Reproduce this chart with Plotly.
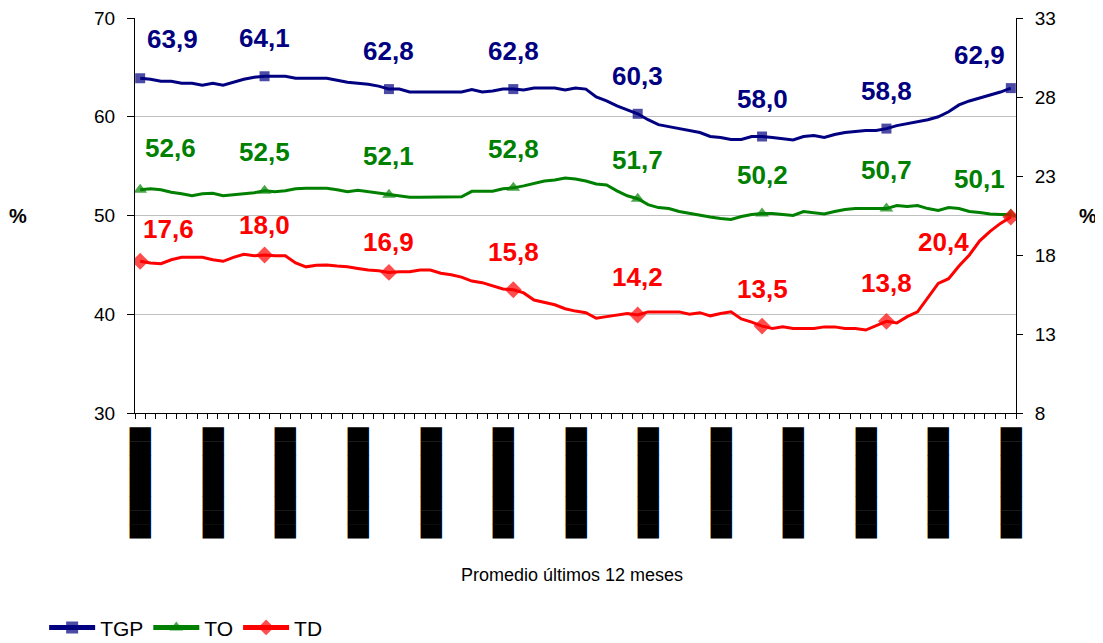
import plotly.graph_objects as go

# Promedio últimos 12 meses, 85 meses (marcador cada 12)
tgp = [63.9, 63.8, 63.6, 63.6, 63.4, 63.4, 63.2, 63.4, 63.2, 63.5, 63.8, 64.0,
       64.1, 64.1, 64.1, 63.9, 63.9, 63.9, 63.9, 63.7, 63.5, 63.4, 63.3, 63.1,
       62.8, 62.8, 62.5, 62.5, 62.5, 62.5, 62.5, 62.5, 62.75, 62.5, 62.6, 62.8,
       62.8, 62.7, 62.9, 62.9, 62.9, 62.7, 62.9, 62.8, 62.0, 61.6, 61.1, 60.7,
       60.3, 59.7, 59.2, 59.0, 58.8, 58.6, 58.4, 58.0, 57.9, 57.7, 57.7, 58.0,
       58.0, 57.9, 57.8, 57.65, 58.0, 58.1, 57.9, 58.2, 58.4, 58.5, 58.6, 58.6,
       58.8, 59.1, 59.3, 59.5, 59.7, 60.0, 60.5, 61.2, 61.6, 61.9, 62.2, 62.5,
       62.9]
to = [52.6, 52.7, 52.6, 52.35, 52.2, 52.0, 52.2, 52.25, 52.0, 52.1, 52.25, 52.3,
      52.5, 52.4, 52.5, 52.7, 52.75, 52.75, 52.75, 52.6, 52.4, 52.55, 52.4, 52.25,
      52.1, 52.0, 51.85, 51.85, 51.85, 51.9, 51.9, 51.9, 52.45, 52.45, 52.45, 52.7,
      52.8, 53.0, 53.25, 53.5, 53.6, 53.8, 53.7, 53.5, 53.2, 53.1, 52.5, 52.0,
      51.7, 51.1, 50.8, 50.7, 50.4, 50.2, 50.0, 49.85, 49.7, 49.6, 49.9, 50.1,
      50.2, 50.2, 50.1, 50.0, 50.4, 50.3, 50.15, 50.4, 50.6, 50.7, 50.7, 50.7,
      50.7, 51.0, 50.9, 51.0, 50.7, 50.5, 50.8, 50.7, 50.4, 50.3, 50.15, 50.1,
      50.1]
td = [17.6, 17.5, 17.45, 17.7, 17.85, 17.85, 17.85, 17.7, 17.6, 17.85, 18.05, 17.95,
      18.0, 17.95, 17.95, 17.5, 17.25, 17.35, 17.37, 17.3, 17.26, 17.15, 17.05, 17.0,
      16.9, 16.94, 16.94, 17.05, 17.05, 16.85, 16.75, 16.6, 16.35, 16.25, 16.05, 15.85,
      15.8, 15.6, 15.15, 15.0, 14.85, 14.6, 14.45, 14.35, 14.0, 14.1, 14.2, 14.3,
      14.2, 14.4, 14.4, 14.4, 14.4, 14.25, 14.35, 14.15, 14.3, 14.4, 13.95, 13.75,
      13.5, 13.35, 13.45, 13.35, 13.35, 13.35, 13.45, 13.45, 13.35, 13.35, 13.25, 13.5,
      13.8, 13.7, 14.1, 14.4, 15.3, 16.2, 16.5, 17.3, 18.0, 18.9, 19.5, 20.0,
      20.4]

# rótulos del eje x (en el original se ven como bloques negros)
etiquetas_x = ["█" * 8] * 13
ticks_izq = [30, 40, 50, 60, 70]
ticks_der = [8, 13, 18, 23, 28, 33]

FUENTE = "Liberation Sans"


def formato(v):
    return f"{v:.1f}".replace(".", ",")


def criar_grafico_tasas():
    meses = list(range(len(tgp)))
    marcas = [i for i in meses if i % 12 == 0]
    tamanos = [1 if i in marcas else 0 for i in meses]

    series = [
        ("TGP", tgp, "#000080", "square", 10, "y"),
        ("TO", to, "#008000", "triangle-up", 12, "y"),
        ("TD", td, "#FF0000", "diamond", 13, "y2"),
    ]
    # desplazamiento (x, y) en px de cada rótulo de dato
    desp = {
        "TGP": [(32, 39)] + [(0, 38)] * 6 + [(-31, 33)],
        "TO": [(30, 42)] + [(0, 39)] * 6 + [(-31, 36)],
        "TD": [(28, 32), (0, 30), (0, 30), (0, 38), (0, 38), (0, 37), (0, 38), (-67, -25)],
    }

    fig = go.Figure()
    anot = []
    for nombre, vals, color, simbolo, tam, eje in series:
        fig.add_trace(go.Scatter(
            x=meses, y=vals, name=nombre, yaxis=eje,
            mode="lines+markers",
            line=dict(color=color, width=3),
            marker=dict(symbol=simbolo, color=color, size=[t * tam for t in tamanos],
                        line=dict(width=0)),
            hoverinfo="skip",
        ))
        for k, i in enumerate(marcas):
            dx, dy = desp[nombre][k]
            anot.append(dict(
                x=i, y=vals[i], xref="x", yref=eje, text=formato(vals[i]),
                showarrow=False, xshift=dx, yshift=dy,
                font=dict(family=FUENTE, size=26, color=color, weight="bold"),
            ))

    anot += [
        dict(x=-0.133, y=0.5, xref="paper", yref="paper", text="<b>%</b>", showarrow=False,
             xanchor="center", yanchor="middle",
             font=dict(family=FUENTE, size=20, color="black")),
        dict(x=1.082, y=0.5, xref="paper", yref="paper", text="<b>%</b>", showarrow=False,
             xanchor="center", yanchor="middle",
             font=dict(family=FUENTE, size=20, color="black")),
        dict(x=0.496, y=-0.41, xref="paper", yref="paper", text="Promedio últimos 12 meses",
             showarrow=False, xanchor="center", yanchor="middle",
             font=dict(family=FUENTE, size=18, color="black")),
    ]

    # la página añade 8 px de margen, por eso 1095x635
    fig.update_layout(
        width=1095, height=635,
        margin=dict(l=127, r=87, t=10, b=230),
        paper_bgcolor="white", plot_bgcolor="white",
        font=dict(family=FUENTE, size=19, color="black"),
        showlegend=True,
        legend=dict(orientation="h", xref="container", yref="container",
                    x=0.033, y=0.024, xanchor="left", yanchor="middle",
                    itemsizing="constant", itemwidth=46, font=dict(size=21),
                    tracegroupgap=0, bgcolor="rgba(0,0,0,0)"),
        annotations=anot,
        xaxis=dict(
            range=[-0.5, 84.5], showgrid=False, zeroline=False, automargin=False,
            showline=True, linecolor="black", linewidth=1,
            tickmode="array", tickvals=list(range(0, 85, 7)), ticktext=etiquetas_x,
            ticks="", tickangle=90,
            tickfont=dict(family="DejaVu Sans", size=18, color="black"),
            ticklabelstandoff=10,
            minor=dict(ticks="outside", ticklen=5, tickcolor="black", tick0=-0.5, dtick=1,
                       showgrid=False),
        ),
        yaxis=dict(
            range=[30, 70], tickvals=ticks_izq, showgrid=True, gridcolor="#c0c0c0",
            zeroline=False, showline=True, linecolor="black", linewidth=1, automargin=False,
            ticks="outside", ticklen=7, tickcolor="black", ticklabelstandoff=8,
            ticklabeloverflow="allow",
        ),
        yaxis2=dict(
            range=[8, 33], tickvals=ticks_der, overlaying="y", side="right",
            showgrid=False, zeroline=False, showline=True, linecolor="black", linewidth=1,
            automargin=False, ticklabeloverflow="allow",
            ticks="outside", ticklen=6, tickcolor="black", ticklabelstandoff=8,
        ),
    )
    return fig


fig = criar_grafico_tasas()
fig.write_html("out.html")
